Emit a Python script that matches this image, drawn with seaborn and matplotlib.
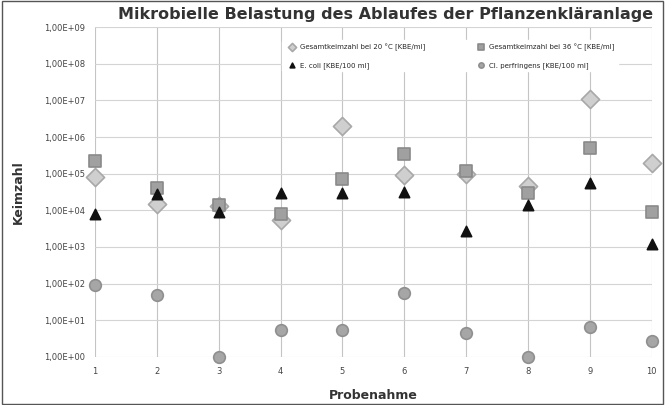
import numpy as np
import pandas as pd
import matplotlib
matplotlib.use("Agg")
import matplotlib.pyplot as plt
import seaborn as sns
from matplotlib.ticker import FuncFormatter, FixedLocator

probe = [1, 2, 3, 4, 5, 6, 7, 8, 9, 10]
gkz_20 = [8e4, 1.5e4, 1.3e4, 5.5e3, 2e6, 9e4, 1.0e5, 4.5e4, 1.1e7, 2e5]
gkz_36 = [2.2e5, 4e4, 1.4e4, 8e3, 7e4, 3.5e5, 1.2e5, 3e4, 5e5, 9e3]
e_coli = [8e3, 2.7e4, 9e3, 3e4, 2.9e4, 3.2e4, 2.7e3, 1.4e4, 5.5e4, 1.2e3]
cl_perf = [90, 50, 1, 5.5, 5.5, 55, 4.6, 1, 6.7, 2.7]

labels = ["Gesamtkeimzahl bei 20 °C [KBE/ml]", "Gesamtkeimzahl bei 36 °C [KBE/ml]",
          "E. coli [KBE/100 ml]", "Cl. perfringens [KBE/100 ml]"]

sns.set_theme(style="white")
plt.rcParams['font.family'] = ['DejaVu Sans']

fig = plt.figure(figsize=(6.65, 4.05), dpi=100)
ax = fig.add_axes([0.143, 0.119, 0.837, 0.814])

series = [
    (gkz_20, labels[0], 'D', '#cfcfcf', '#a8a8a8', 85),
    (gkz_36, labels[1], 's', '#a0a0a0', '#8a8a8a', 70),
    (e_coli, labels[2], '^', '#111111', '#111111', 55),
    (cl_perf, labels[3], 'o', '#a6a6a6', '#8f8f8f', 70),
]
for vals, lab, m, fc, ec, s in series:
    df = pd.DataFrame({'Probenahme': probe, 'Keimzahl': vals})
    sns.scatterplot(data=df, x='Probenahme', y='Keimzahl', marker=m, color=fc,
                    edgecolor=ec, linewidth=1.2, s=s, ax=ax, label=lab, zorder=3,
                    clip_on=False)

ax.set_yscale('log')
ax.set_ylim(1, 1e9)
ax.set_xlim(1, 10)
ax.yaxis.set_major_locator(FixedLocator([10.0 ** k for k in range(10)]))
ax.yaxis.set_minor_locator(FixedLocator([]))
ax.yaxis.set_major_formatter(FuncFormatter(lambda v, p: f"{v:.2E}".replace('.', ',')))
ax.set_xticks(probe)
ax.tick_params(axis='both', labelsize=6, colors='#444444', length=0, pad=7)
ax.grid(True, axis='y', color='#d4d4d4', linewidth=0.8)
ax.grid(True, axis='x', color='#c4c4c4', linewidth=0.8)
for sp in ax.spines.values():
    sp.set_visible(False)

ax.set_xlabel('Probenahme', fontsize=9, fontweight='bold', color='#333333', labelpad=10)
ax.set_ylabel('Keimzahl', fontsize=9, fontweight='bold', color='#333333', labelpad=14)
fig.text(0.58, 0.965, 'Mikrobielle Belastung des Ablaufes der Pflanzenkläranlage', fontsize=11.5,
         fontweight='bold', color='#333333', ha='center', va='center')

h, l = ax.get_legend_handles_labels()
order = [0, 2, 1, 3]
leg = ax.legend([h[i] for i in order], [l[i] for i in order], ncol=2, fontsize=5,
                loc='upper left', bbox_to_anchor=(0.33, 0.97), frameon=True,
                facecolor='white', edgecolor='white', framealpha=1,
                columnspacing=7, handletextpad=0.2, labelspacing=1.6, markerscale=0.45)

fig.patches.append(plt.Rectangle((0.003, 0.003), 0.994, 0.994, transform=fig.transFigure,
                                 fill=False, edgecolor='#555555', linewidth=1))

fig.savefig('out.png', dpi=100)
